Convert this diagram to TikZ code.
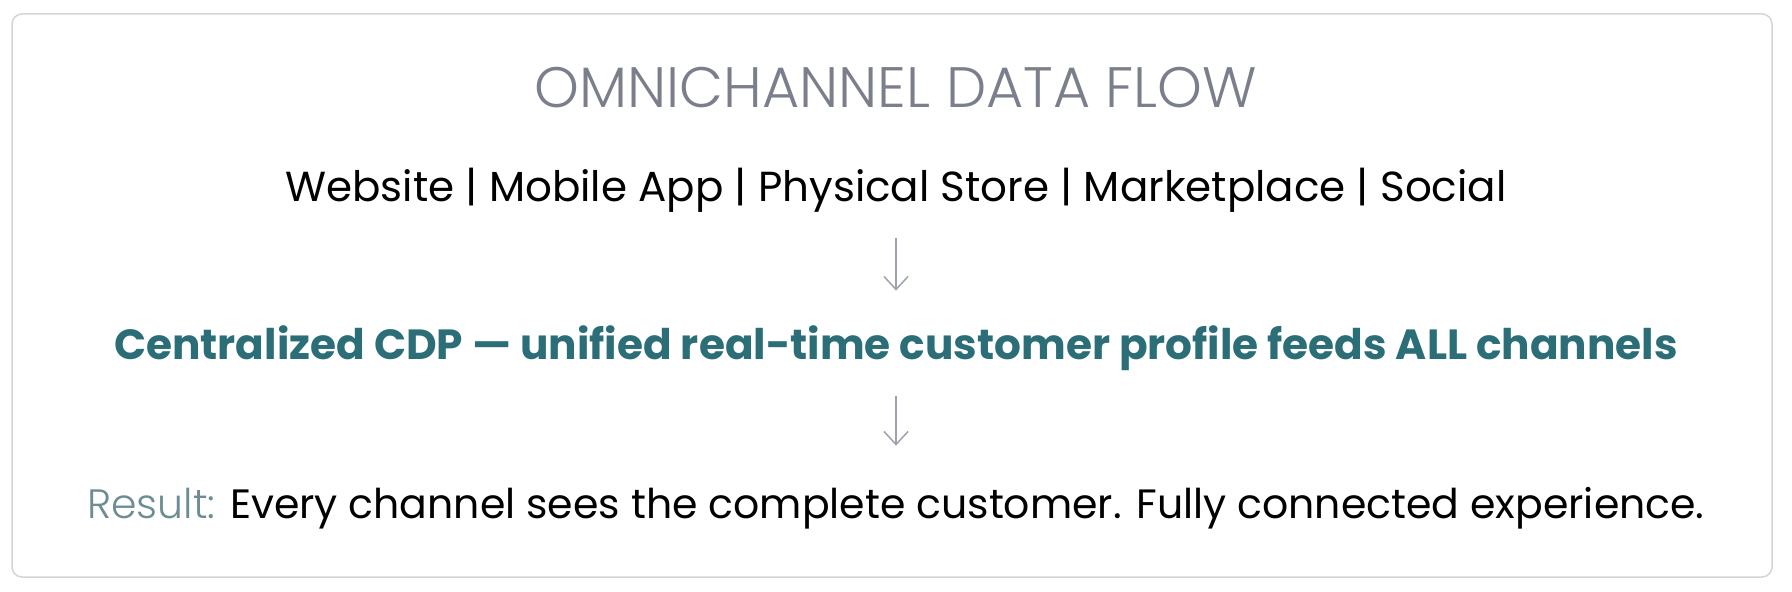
\documentclass[tikz,border=0pt]{standalone}
\usepackage{fontspec}
\setmainfont{Poppins}
\newfontfamily\lightfont{Poppins Light}
\usetikzlibrary{arrows.meta,positioning}
\definecolor{framegray}{HTML}{D3D5D9}
\definecolor{titlegray}{HTML}{7B7F8C}
\definecolor{arrowgray}{HTML}{9EA2B0}
\definecolor{cdpteal}{HTML}{2B6E77}
\definecolor{resultteal}{HTML}{6D8D92}

\begin{document}
\begin{tikzpicture}[
    x=0.5pt, y=-0.5pt,
    >={Straight Barb[length=6.5pt,width=12pt]},
    frame/.style={
		draw=framegray,
		line width=0.75pt,
		rounded corners=5pt,
		fill=white
	},
	line/.style={
		inner sep=0pt,
		anchor=base,
		text depth=0pt
	},
	title/.style={
		line,
		font=\lightfont\fontsize{28.5}{32}\selectfont,
		text=titlegray
	},
	channels/.style={
		line,
		font=\fontsize{21}{26}\selectfont,
		text=black,
		text height=15pt
	},
	cdp/.style={
		line,
		font=\bfseries\fontsize{21.1}{25}\selectfont,
		text=cdpteal,
		text height=14pt
	},
	result/.style={
		line,
		font=\fontsize{20.5}{25}\selectfont,
		text=black,
		text height=15.5pt
	},
	flow/.style={
		->,
		draw=arrowgray,
		line width=0.75pt,
		shorten <=18pt,
		shorten >=20.5pt
	}
  ]
  \useasboundingbox (0,0) rectangle (1792,592);
  \draw [frame] (12,14) rectangle (1772,577);

  % the four lines of text
  \node [title] (head) at (896,108) {OMNICHANNEL DATA FLOW};
  \node [channels, below=47pt of head.base, anchor=base] (chan)
  {Website | Mobile App | Physical Store | Marketplace | Social};
  \node [cdp, below=79pt of chan.base, anchor=base] (hub)
  {Centralized CDP — unified real-time customer profile feeds ALL channels};
  \node [result, below=79pt of hub.base, anchor=base] (outcome)
  {{\lightfont\color{resultteal}Result:} Every channel sees the complete customer. Fully connected experience.};

  \draw [flow] (chan.south) -- (hub.north);
  \draw [flow] (hub.south) -- (outcome.north);

\end{tikzpicture}
\end{document}
